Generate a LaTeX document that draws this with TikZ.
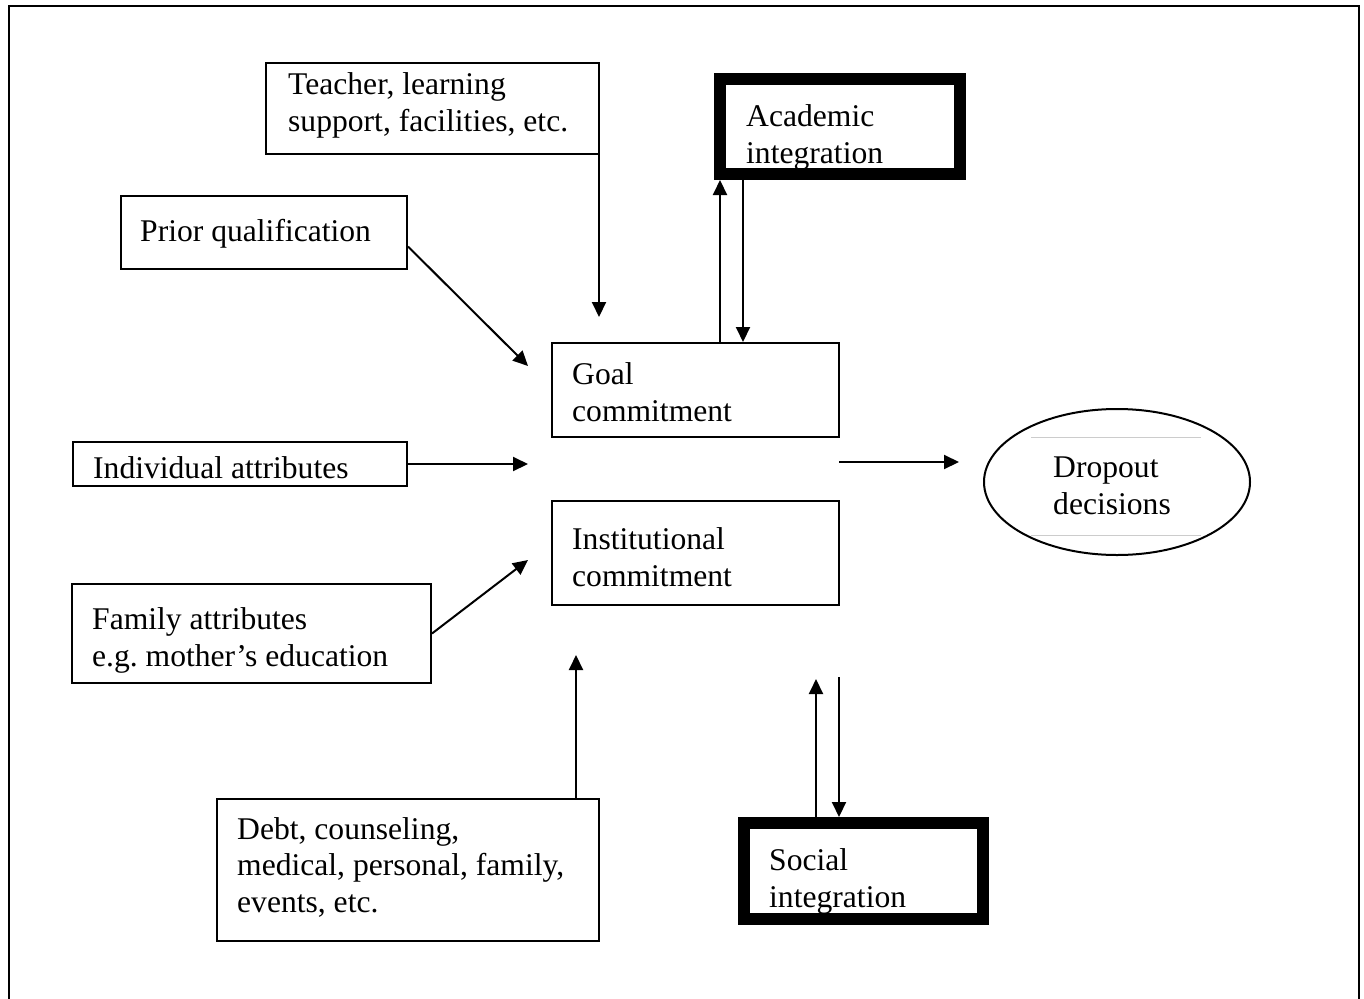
\documentclass[tikz,border=0pt]{standalone}
\usepackage{fontspec}
\setmainfont{Liberation Serif}
\usetikzlibrary{arrows.meta,shapes.geometric,calc}
\frenchspacing
\begin{document}
\begin{tikzpicture}[x=1pt,y=-1pt,
  box/.style={draw, line width=2pt, rectangle, inner sep=0pt, anchor=north west},
  heavybox/.style={draw, line width=12pt, rectangle, inner sep=0pt, anchor=north west},
  % anchored on the baseline of the last line
  txt/.style={anchor=base west, inner sep=0pt, align=left,
    font=\fontsize{31.6}{36.5}\selectfont},
  arr/.style={line width=2pt, -{Triangle[length=15pt,width=14pt]}},
  faint/.style={draw=black!20, line width=1pt}
]
\useasboundingbox (0,0) rectangle (1364,998);

% outer frame, open at the bottom
\draw[line width=2.2pt] (9,1020) -- (9,6) -- (1359,6) -- (1359,1020);

% plain boxes
\node[box, minimum width=333pt, minimum height=91pt] (teacher) at (265,62) {};
\node[box, minimum width=286pt, minimum height=73pt] (prior) at (120,195) {};
\node[box, minimum width=287pt, minimum height=94pt] (goal) at (551,342) {};
\node[box, minimum width=334pt, minimum height=44pt] (indiv) at (72,441) {};
\node[box, minimum width=287pt, minimum height=104pt] (inst) at (551,500) {};
\node[box, minimum width=359pt, minimum height=99pt] (family) at (71,583) {};
\node[box, minimum width=382pt, minimum height=142pt] (debt) at (216,798) {};

% box texts
\node[txt] (teachertxt) at (288,131) {Teacher, learning\\support, facilities, etc.};
\node[txt] (priortxt) at (140,241) {Prior qualification};
\node[txt] (goaltxt) at (572,421) {Goal\\commitment};
\node[txt] (indivtxt) at (93,478) {Individual attributes};
\node[txt] (insttxt) at (572,586) {Institutional\\commitment};
\node[txt] (familytxt) at (92,666) {Family attributes\\e.g. mother’s education};
\node[txt] (debttxt) at (237,912) {Debt, counseling,\\medical, personal, family,\\events, etc.};

% integration boxes: text first, heavy frame over it (it cuts the descenders)
\node[txt] (acadtxt) at (746,163) {Academic\\integration};
\node[heavybox, minimum width=240pt, minimum height=95pt] (acad) at (714,73) {};
\node[txt] (socialtxt) at (769,907) {Social\\integration};
\node[heavybox, minimum width=239pt, minimum height=96pt] (social) at (738,817) {};

% outcome
\draw[faint] (1031,437) -- (1201,437);
\draw[faint] (1031,535) -- (1201,535);
\node[draw, ellipse, line width=2pt, inner sep=0pt, minimum width=266pt, minimum height=146pt] (drop) at (1117,482) {};
\node[txt] (droptxt) at (1053,514) {Dropout\\decisions};

% arrow end points in the open space around the commitments
\coordinate (tteacher) at (599,317);
\coordinate (tprior) at (528,366);
\coordinate (tindiv) at (528,464);
\coordinate (tfamily) at (528,560);
\coordinate (tdebt) at (576,655);
\coordinate (cout) at (839,462);
\coordinate (cin) at (959,462);
\coordinate (sup) at (816,679);
\coordinate (sdown) at (839,677);

% connectors
\draw[arr] (teacher.south -| tteacher) -- (tteacher);
\draw[arr] ($(prior.east)+(0,14)$) -- (tprior);
\draw[arr] (indiv.east) -- (tindiv);
\draw[arr] (family.east) -- (tfamily);
\draw[arr] (debt.north -| tdebt) -- (tdebt);
\draw[arr] ($(goal.north west)+(169,0)$) -- ($(acad.south west)+(6,0)$);
\draw[arr] ($(acad.south west)+(29,0)$) -- ($(goal.north west)+(192,0)$);
\draw[arr] (cout) -- (cin);
\draw[arr] (social.north -| sup) -- (sup);
\draw[arr] (sdown) -- (social.north -| sdown);
\end{tikzpicture}
\end{document}
